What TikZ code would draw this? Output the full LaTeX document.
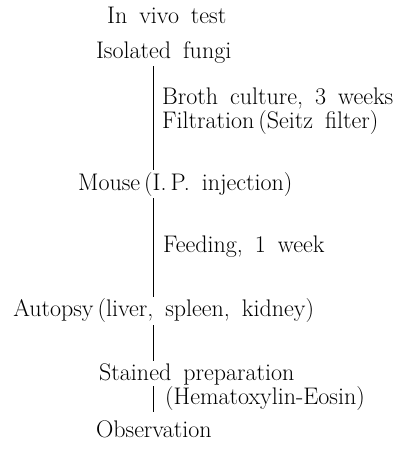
\documentclass[tikz,border=0pt]{standalone}
\usepackage{fontspec}
\usetikzlibrary{calc}

\newcommand\flowfont{\fontsize{24}{28}\selectfont\spaceskip=0.5em\relax}

\begin{document}
\begin{tikzpicture}[
  stage/.style={inner sep=0pt, anchor=base west, text height=17pt, text depth=5pt,
    font=\flowfont},
  note/.style={inner sep=0pt, anchor=base west, text height=14pt, text depth=2pt,
    font=\flowfont},
  link/.style={line width=1pt, shorten <=3pt, shorten >=3pt},
]

% Frame
\useasboundingbox (0,0) rectangle (13.88,15.78);
\coordinate (spine) at (5.38,0);

% Title
\node[note] (title) at (3.76,14.97) {In vivo test};

% === Main steps ===
\node[stage] (fungi) at (3.37,13.74) {Isolated fungi};
\node[stage] (mouse) at (2.74,9.10) {Mouse\,(I.\,P. injection)};
\node[stage] (autopsy) at (0.46,4.64) {Autopsy\,(liver, spleen, kidney)};
\node[stage] (stained) at (3.48,2.39) {Stained preparation};
\node[stage] (observ) at (3.37,0.42) {Observation};

% === Side notes ===
\node[note] (broth) at (5.69,12.09) {Broth culture, 3 weeks};
\node[note] (filter) at (5.69,11.28) {Filtration\,(Seitz filter)};
\node[note] (feed) at (5.73,6.92) {Feeding, 1 week};
\node[note] (stain) at (5.80,1.58) {(Hematoxylin-Eosin)};

% === Vertical links ===
\draw[link] (fungi.south -| spine) -- (mouse.north -| spine);
\draw[link] (mouse.south -| spine) -- (autopsy.north -| spine);
\draw[link] (autopsy.south -| spine) -- (stained.north -| spine);
\draw[link, shorten <=0pt, shorten >=8pt] (stained.south -| spine) -- (observ.north -| spine);

\end{tikzpicture}
\end{document}
